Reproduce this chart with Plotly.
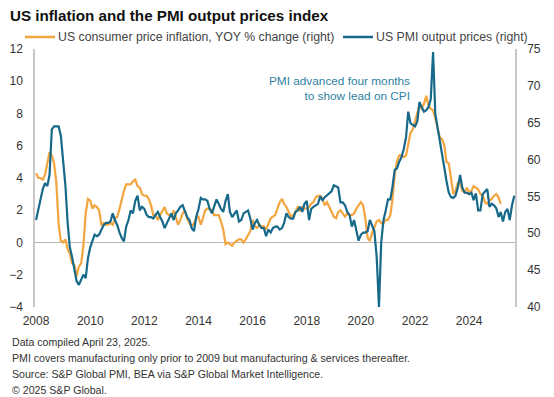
import pandas as pd
import plotly.graph_objects as go

# US CPI, YoY % change (left axis), monthly from Jan 2008
cpi_yoy = [
    4.3, 4.0, 4.0, 3.9, 4.2, 5.0, 5.6, 5.4, 4.9, 3.7, 1.1, 0.1,      # 2008
    0.0, 0.2, -0.4, -0.7, -1.3, -1.4, -2.1, -1.5, -1.3, -0.2, 1.8, 2.7,  # 2009
    2.6, 2.1, 2.3, 2.2, 2.0, 1.1, 1.2, 1.1, 1.1, 1.2, 1.1, 1.5,      # 2010
    1.6, 2.1, 2.7, 3.2, 3.6, 3.6, 3.6, 3.8, 3.9, 3.5, 3.4, 3.0,      # 2011
    2.9, 2.9, 2.7, 2.3, 1.7, 1.7, 1.4, 1.7, 2.0, 2.2, 1.8, 1.7,      # 2012
    1.6, 2.0, 1.5, 1.1, 1.4, 1.8, 2.0, 1.5, 1.2, 1.0, 1.2, 1.5,      # 2013
    1.6, 1.1, 1.5, 2.0, 2.1, 2.1, 2.0, 1.7, 1.7, 1.7, 1.3, 0.8,      # 2014
    -0.1, 0.0, -0.1, -0.2, 0.0, 0.1, 0.2, 0.2, 0.0, 0.2, 0.5, 0.7,   # 2015
    1.4, 1.0, 0.9, 1.1, 1.0, 1.0, 0.8, 1.1, 1.5, 1.6, 1.7, 2.1,      # 2016
    2.5, 2.7, 2.4, 2.2, 1.9, 1.6, 1.7, 1.9, 2.2, 2.0, 2.2, 2.1,      # 2017
    2.1, 2.2, 2.4, 2.5, 2.8, 2.9, 2.9, 2.7, 2.3, 2.5, 2.2, 1.9,      # 2018
    1.6, 1.5, 1.9, 2.0, 1.8, 1.6, 1.8, 1.7, 1.7, 1.8, 2.1, 2.3,      # 2019
    2.5, 2.3, 1.5, 0.3, 0.1, 0.6, 1.0, 1.3, 1.4, 1.2, 1.2, 1.4,      # 2020
    1.4, 1.7, 2.6, 4.2, 5.0, 5.4, 5.4, 5.3, 5.4, 6.2, 6.8, 7.0,      # 2021
    7.5, 7.9, 8.5, 8.3, 8.6, 9.1, 8.5, 8.3, 8.2, 7.7, 7.1, 6.5,      # 2022
    6.4, 6.0, 5.0, 4.9, 4.0, 3.0, 3.2, 3.7, 3.7, 3.2, 3.1, 3.4,      # 2023
    3.1, 3.2, 3.5, 3.4, 3.3, 3.0, 2.9, 2.5, 2.4, 2.6, 2.7, 2.9,      # 2024
    3.0, 2.8, 2.4,                                                   # 2025
]

# US PMI output prices index (right axis), advanced four months, monthly
pmi_output_prices = [
    51.8, 53.1, 54.4, 56.0, 56.8, 56.4, 57.9, 64.1, 64.5, 64.5, 64.5, 63.2,
    59.7, 56.4, 51.6, 48.1, 46.8, 45.2, 43.5, 43.0, 43.7, 44.4, 43.9, 46.6,
    48.1, 49.0, 49.8, 49.6, 49.8, 50.5, 51.1, 51.4, 51.4, 51.6, 52.7, 51.8,
    51.1, 50.1, 49.4, 48.9, 50.9, 51.8, 53.1, 52.7, 54.4, 55.1, 53.1, 53.6,
    53.3, 52.5, 52.2, 52.2, 52.0, 52.5, 52.9, 52.2, 51.6, 50.7, 51.4, 52.0,
    52.7, 51.8, 52.7, 53.1, 53.6, 53.8, 52.9, 52.2, 51.8, 50.7, 50.3, 52.2,
    53.3, 54.8, 54.6, 54.6, 54.4, 53.3, 52.7, 53.6, 54.6, 54.0, 53.3, 52.9,
    54.4, 55.3, 52.9, 52.2, 52.7, 53.1, 51.6, 51.8, 52.7, 52.9, 53.1, 52.0,
    50.5, 51.4, 51.8, 51.1, 50.7, 50.7, 49.6, 50.5, 50.1, 50.7, 50.9, 50.9,
    50.5, 50.7, 51.4, 52.7, 52.2, 52.0, 52.0, 52.9, 53.1, 53.6, 52.9, 54.0,
    54.4, 51.8, 53.3, 53.6, 53.8, 54.0, 55.0, 54.5, 54.9, 55.2, 55.4, 55.7,
    56.5, 56.3, 56.2, 54.2, 54.2, 53.8, 52.9, 52.5, 50.9, 51.8, 50.3, 49.0,
    49.8, 50.1, 50.1, 50.3, 51.8, 50.9, 50.3, 46.8, 40.0, 48.7, 51.8, 53.1,
    54.6, 54.6, 56.2, 58.6, 58.8, 59.7, 60.3, 61.4, 63.0, 66.5, 64.9, 64.7,
    64.5, 65.2, 67.8, 67.1, 66.5, 66.7, 67.1, 68.2, 74.6, 66.2, 64.3, 62.1,
    60.1, 58.8, 57.1, 55.5, 54.9, 54.8, 55.1, 56.2, 57.9, 56.2, 55.5, 55.5,
    55.3, 55.5, 54.5, 55.4, 53.1, 53.1, 55.3, 55.6, 56.0, 53.6, 54.0, 53.8,
    53.4, 52.2, 52.9, 51.6, 52.9, 53.3, 51.8, 53.8, 55.1,
]

tick_years = [2008, 2010, 2012, 2014, 2016, 2018, 2020, 2022, 2024]
left_ticks = [-4, -2, 0, 2, 4, 6, 8, 10, 12]
right_ticks = [40, 45, 50, 55, 60, 65, 70, 75]

cpi_name = "US consumer price inflation, YOY % change (right)"
pmi_name = "US PMI output prices (right)"

start = pd.Timestamp("2008-01-01")
cpi_dates = pd.date_range(start, periods=len(cpi_yoy), freq="MS")
pmi_dates = pd.date_range(start, periods=len(pmi_output_prices), freq="MS")

tick_vals = [pd.Timestamp(f"{y}-01-01") for y in tick_years]
tick_text = [str(y) for y in tick_years]
x_range = [start - pd.Timedelta(days=14), start + pd.Timedelta(days=212.3 * 30.44)]

ORANGE = "#F3A53F"
TEAL = "#17698A"
FONT = "Liberation Sans, Arial, sans-serif"

# the page body has an 8px margin; the figure is sized to fit inside it
W, H = 546, 389
PLOT_L, PLOT_R, PLOT_T, PLOT_B = 35, 515, 49, 307  # page pixels of plot area


def px_x(x):
    return (x - PLOT_L) / (PLOT_R - PLOT_L)


def px_y(y):
    return (PLOT_B - y) / (PLOT_B - PLOT_T)


fig = go.Figure()
fig.add_trace(go.Scatter(
    x=cpi_dates, y=cpi_yoy, mode="lines", name=cpi_name,
    line=dict(color=ORANGE, width=2.2), yaxis="y",
))
fig.add_trace(go.Scatter(
    x=pmi_dates, y=pmi_output_prices, mode="lines", name=pmi_name,
    line=dict(color=TEAL, width=2.2), yaxis="y2",
))

axis_font = dict(family=FONT, size=12, color="#333333")

fig.update_layout(
    width=W, height=H,
    margin=dict(l=PLOT_L - 8, r=W - (PLOT_R - 8), t=PLOT_T - 8,
                b=H - (PLOT_B - 8), pad=0, autoexpand=False),
    paper_bgcolor="white", plot_bgcolor="white",
    font=dict(family=FONT, color="#333333"),
    showlegend=False,
    title=dict(
        text="<b>US inflation and the PMI output prices index</b>",
        x=2 / W, xanchor="left", xref="container",
        y=1 - 2 / H, yanchor="top", yref="container",
        font=dict(family=FONT, size=15.2, color="#111111"),
    ),
    xaxis=dict(
        type="date", range=x_range, tickvals=tick_vals, ticktext=tick_text,
        showgrid=False, zeroline=False, showline=False, ticks="",
        tickfont=axis_font, ticklabelstandoff=5,
    ),
    yaxis=dict(
        range=[-4, 12], tickvals=left_ticks, showgrid=False,
        zeroline=True, zerolinecolor="#b8b8b8", zerolinewidth=1,
        showline=True, linecolor="#c8c8c8", linewidth=1.5, ticks="",
        tickfont=axis_font, ticklabelstandoff=8,
    ),
    yaxis2=dict(
        range=[40, 75], tickvals=right_ticks, overlaying="y", side="right",
        showgrid=False, zeroline=False, showline=True, linecolor="#c8c8c8",
        linewidth=1.5, ticks="", tickfont=axis_font, ticklabelstandoff=8,
    ),
)

# legend drawn as line samples + labels above the plot
legend_y = px_y(37)
legend_items = [(25, 55, ORANGE, cpi_name), (343, 373, TEAL, pmi_name)]
for x0, x1, color, label in legend_items:
    fig.add_shape(
        type="line", xref="paper", yref="paper",
        x0=px_x(x0), x1=px_x(x1), y0=legend_y, y1=legend_y,
        line=dict(color=color, width=2.5),
    )
    fig.add_annotation(
        text=label, xref="paper", yref="paper", x=px_x(x1 + 1), y=legend_y,
        xanchor="left", yanchor="middle", showarrow=False,
        font=dict(family=FONT, size=12.3, color="#444444"),
    )

fig.add_annotation(
    text="PMI advanced four months<br>to show lead on CPI",
    xref="paper", yref="paper", x=px_x(412), y=px_y(88),
    xanchor="right", yanchor="middle", align="right", showarrow=False,
    font=dict(family=FONT, size=11.8, color="#2F7FA0"),
)

footnotes = [
    "Data compiled April 23, 2025.",
    "PMI covers manufacturing only prior to 2009 but manufacturing & services thereafter.",
    "Source: S&P Global PMI, BEA via S&P Global Market Intelligence.",
    "\u00a9 2025 S&P Global.",
]
for i, line in enumerate(footnotes):
    fig.add_annotation(
        text=line, xref="paper", yref="paper",
        x=px_x(9.5), y=px_y(341.5 + 16 * i),
        xanchor="left", yanchor="middle", showarrow=False,
        font=dict(family=FONT, size=10.6, color="#333333"),
    )

fig.write_html("out.html")
